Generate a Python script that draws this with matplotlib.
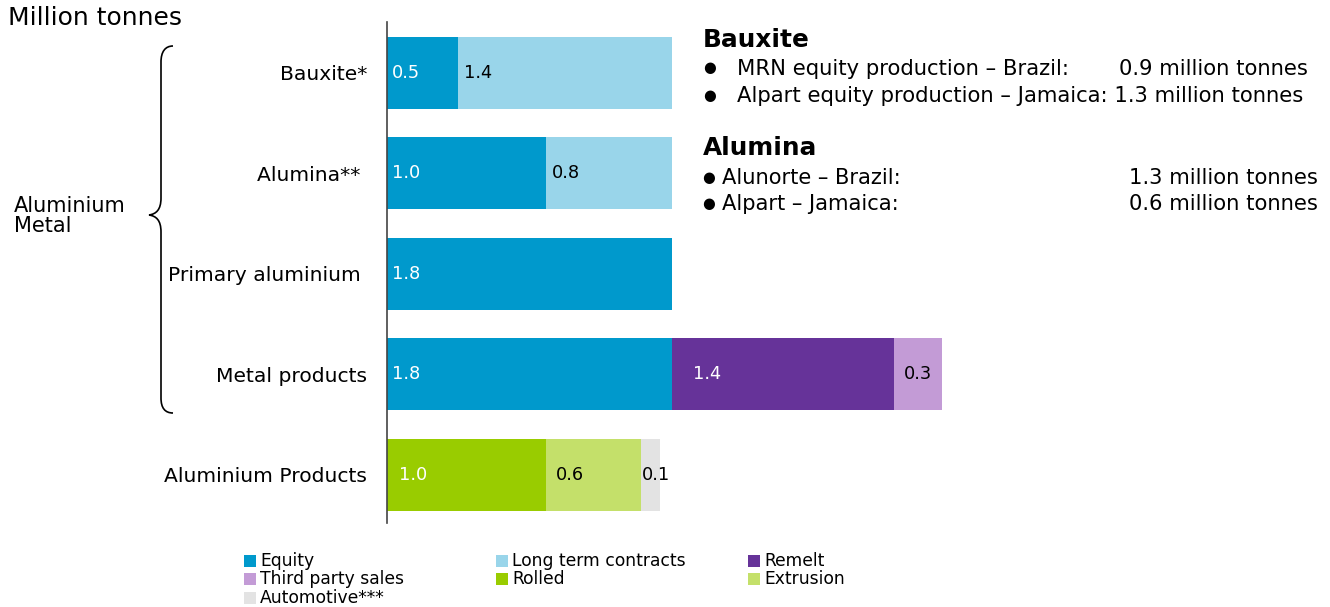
import matplotlib
matplotlib.use("Agg")
import matplotlib.pyplot as plt
from matplotlib.patches import Rectangle, PathPatch
from matplotlib.path import Path
import numpy as np

# ---------------- data ----------------
categories = ["Bauxite*", "Alumina** ", "Primary aluminium ", "Metal products", "Aluminium Products"]
series_names = ["Equity", "Long term contracts", "Remelt", "Third party sales",
                "Rolled", "Extrusion", "Automotive***"]
equity      = [0.45, 1.0, 1.8, 1.8, 0.0]
long_term   = [1.35, 0.8, 0.0, 0.0, 0.0]
remelt      = [0.0, 0.0, 0.0, 1.4, 0.0]
third_party = [0.0, 0.0, 0.0, 0.3, 0.0]
rolled      = [0.0, 0.0, 0.0, 0.0, 1.0]
extrusion   = [0.0, 0.0, 0.0, 0.0, 0.6]
automotive  = [0.0, 0.0, 0.0, 0.0, 0.12]
equity_lbl      = ["0.5", "1.0", "1.8", "1.8", ""]
long_term_lbl   = ["1.4", "0.8", "", "", ""]
remelt_lbl      = ["", "", "", "1.4", ""]
third_party_lbl = ["", "", "", "0.3", ""]
rolled_lbl      = ["", "", "", "", "1.0"]
extrusion_lbl   = ["", "", "", "", "0.6"]
automotive_lbl  = ["", "", "", "", "0.1"]

# ---------------- style ----------------
colors = ["#0099CC", "#99D5EA", "#663399", "#C39BD6", "#99CC00", "#C4E06A", "#E3E3E3"]
label_colors = ["white", "black", "white", "black", "white", "black", "black"]
label_offset_px = [5, 6, 21, 10, 12, 10, 1]

W, H = 1330, 607
plt.rcParams['font.family'] = ['DejaVu Sans']
fig = plt.figure(figsize=(W / 100, H / 100), dpi=100)

def fx(x): return x / W
def fy(y): return 1 - y / H

ax_left, ax_right, ax_top, ax_bottom = 387, 1330, 22, 523
ax = fig.add_axes([fx(ax_left), fy(ax_bottom), (ax_right - ax_left) / W, (ax_bottom - ax_top) / H])
px_per_unit = 158.5
ax.set_xlim(0, (ax_right - ax_left) / px_per_unit)
ax.set_ylim(4.478, -0.507)

all_vals = [equity, long_term, remelt, third_party, rolled, extrusion, automotive]
all_lbls = [equity_lbl, long_term_lbl, remelt_lbl, third_party_lbl, rolled_lbl, extrusion_lbl, automotive_lbl]
y = np.arange(len(categories))
left = np.zeros(len(categories))
for vals, lbls, name, col, lc, off in zip(all_vals, all_lbls, series_names, colors, label_colors, label_offset_px):
    vals = np.array(vals)
    ax.barh(y, vals, left=left, height=0.716, color=col, label=name, linewidth=0)
    for i, (v, t) in enumerate(zip(vals, lbls)):
        if t:
            ax.text(left[i] + off / px_per_unit, y[i], t, color=lc, fontsize=12.8,
                    ha="left", va="center")
    left = left + vals

ax.set_yticks(y)
ax.set_yticklabels(categories, fontsize=14.6)
ax.tick_params(axis="y", length=0, pad=14.4)
ax.set_xticks([])
for s in ["top", "right", "bottom"]:
    ax.spines[s].set_visible(False)
ax.spines["left"].set_color("#444444")
ax.spines["left"].set_linewidth(1.2)

# ---------------- texts ----------------
def ftext(x, y, s, **kw):
    fig.text(fx(x), fy(y), s, **kw)

ftext(8, 18, "Million tonnes", fontsize=18, ha="left", va="center")
ftext(14, 216, "Aluminium\nMetal", fontsize=15, ha="left", va="center", linespacing=1.05)

# brace
verts = [(173, 46), (165, 46), (161, 52), (161, 62),
         (161, 198),
         (161, 210), (156, 214), (149, 215),
         (156, 216), (161, 220), (161, 232),
         (161, 398),
         (161, 408), (165, 413), (173, 413)]
codes = [Path.MOVETO, Path.CURVE4, Path.CURVE4, Path.CURVE4,
         Path.LINETO,
         Path.CURVE4, Path.CURVE4, Path.CURVE4,
         Path.CURVE4, Path.CURVE4, Path.CURVE4,
         Path.LINETO,
         Path.CURVE4, Path.CURVE4, Path.CURVE4]
verts_f = [(fx(a), fy(b)) for a, b in verts]
fig.patches.append(PathPatch(Path(verts_f, codes), transform=fig.transFigure,
                             fill=False, edgecolor="black", linewidth=1.2))

# right-hand notes
ftext(703, 40, "Bauxite", fontsize=17.8, fontweight="bold", ha="left", va="center")
ftext(710, 68, "●", fontsize=10.5, ha="center", va="center")
ftext(737, 69, "MRN equity production – Brazil:", fontsize=15.2, ha="left", va="center")
ftext(1308, 69, "0.9 million tonnes", fontsize=15.2, ha="right", va="center")
ftext(710, 95, "●", fontsize=10.5, ha="center", va="center")
ftext(737, 96, "Alpart equity production – Jamaica: 1.3 million tonnes", fontsize=15.2,
      ha="left", va="center")

ftext(703, 148, "Alumina", fontsize=17.8, fontweight="bold", ha="left", va="center")
ftext(709, 177, "●", fontsize=10.5, ha="center", va="center")
ftext(722, 178, "Alunorte – Brazil:", fontsize=15.1, ha="left", va="center")
ftext(1318, 178, "1.3 million tonnes", fontsize=15.2, ha="right", va="center")
ftext(709, 203, "●", fontsize=10.5, ha="center", va="center")
ftext(722, 204, "Alpart – Jamaica:", fontsize=15.1, ha="left", va="center")
ftext(1318, 204, "0.6 million tonnes", fontsize=15.2, ha="right", va="center")

# ---------------- legend (manual, row-major, 3 columns) ----------------
col_x = [244, 496, 748]
row_y = [561, 579, 598]
sq = 12
for k, (name, col) in enumerate(zip(series_names, colors)):
    r, c = divmod(k, 3)
    x0, y0 = col_x[c], row_y[r]
    fig.patches.append(Rectangle((fx(x0), fy(y0 + sq / 2)), sq / W, sq / H,
                                 transform=fig.transFigure, facecolor=col, edgecolor="none"))
    ftext(x0 + 16, y0, name, fontsize=12.3, ha="left", va="center")

fig.savefig("out.png", dpi=100)
